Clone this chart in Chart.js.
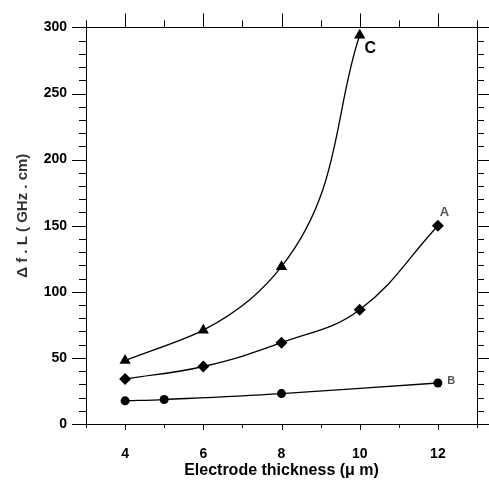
<!DOCTYPE html>
<html>
<head>
<meta charset="utf-8">
<script src="https://cdn.jsdelivr.net/npm/chart.js@4.4.0/dist/chart.umd.min.js"></script>
<style>
  html, body { margin: 0; padding: 0; background: #fff; }
  #wrap { width: 489px; height: 480px; }
</style>
</head>
<body>
<div id="wrap"><canvas id="chart" width="489" height="480"></canvas></div>
<script>
// curve A (diamonds)
const thickA = [4, 6, 8, 10, 12];
const valA = [34, 43.5, 61.5, 86.5, 150];
// curve B (circles)
const thickB = [4, 5, 8, 12];
const valB = [17.5, 18.5, 23, 31];
// curve C (triangles)
const thickC = [4, 6, 8, 10];
const valC = [48, 71, 119, 294];

const xTicks = [4, 6, 8, 10, 12];
const yTicks = [0, 50, 100, 150, 200, 250, 300];

const FONT = "'Liberation Sans', Arial, sans-serif";

function points(xs, ys) {
    return xs.map((x, i) => ({ x: x, y: ys[i] }));
}

// box around the plot + outer tick marks (major and minor)
const frameTicks = {
    id: "frameTicks",
    afterDraw(chart) {
        const { ctx, chartArea: a, scales: { x, y } } = chart;
        ctx.save();
        ctx.strokeStyle = "#000";
        ctx.lineWidth = 1;
        ctx.beginPath();
        ctx.rect(Math.round(a.left) + 0.5, Math.round(a.top) + 0.5,
                 Math.round(a.right - a.left), Math.round(a.bottom - a.top));
        for (let v = 3; v <= 13; v++) {
            const px = Math.round(x.getPixelForValue(v)) + 0.5;
            const major = xTicks.includes(v);
            ctx.moveTo(px, a.bottom); ctx.lineTo(px, a.bottom + (major ? 6 : 4));
            ctx.moveTo(px, a.top); ctx.lineTo(px, a.top - (major ? 14 : 7));
        }
        for (let v = 0; v <= 300; v += 10) {
            const py = Math.round(y.getPixelForValue(v)) + 0.5;
            const major = yTicks.includes(v);
            ctx.moveTo(a.left, py); ctx.lineTo(a.left - (major ? 14 : 7), py);
            ctx.moveTo(a.right, py); ctx.lineTo(a.right + (major ? 12 : 7), py);
        }
        ctx.stroke();

        // y axis title, drawn by hand so it can sit a bit above centre
        ctx.translate(23, (a.top + a.bottom) / 2 - 10);
        ctx.rotate(-Math.PI / 2);
        ctx.fillStyle = "#333";
        ctx.font = "bold 15px " + FONT;
        ctx.textAlign = "center";
        ctx.textBaseline = "middle";
        ctx.fillText("\u0394 f . L ( GHz . cm)", 0, 0);
        ctx.restore();
    }
};

// curve letters next to the lines
const curveTags = {
    id: "curveTags",
    afterDatasetsDraw(chart) {
        const { ctx, scales: { x, y } } = chart;
        const tags = [
            { text: "C", x: 10.27, y: 284, color: "#000", size: 16 },
            { text: "A", x: 12.17, y: 160, color: "#555", size: 13 },
            { text: "B", x: 12.34, y: 32.5, color: "#555", size: 11 }
        ];
        ctx.save();
        ctx.textAlign = "center";
        ctx.textBaseline = "middle";
        tags.forEach(t => {
            ctx.fillStyle = t.color;
            ctx.font = "bold " + t.size + "px " + FONT;
            ctx.fillText(t.text, x.getPixelForValue(t.x), y.getPixelForValue(t.y));
        });
        ctx.restore();
    }
};

const lineStyle = {
    borderColor: "#000",
    backgroundColor: "#000",
    borderWidth: 1.3,
    fill: false,
    clip: false,
    showLine: true,
    pointBorderWidth: 0
};

new Chart(document.getElementById("chart"), {
    type: "scatter",
    data: {
        datasets: [
            Object.assign({ label: "A", data: points(thickA, valA), tension: 0.4,
                pointStyle: "rectRot", pointRadius: 6 }, lineStyle),
            Object.assign({ label: "B", data: points(thickB, valB), tension: 0.4,
                pointStyle: "circle", pointRadius: 4.5 }, lineStyle),
            // C rises almost vertically at the end: interpolate x as a function of y
            Object.assign({ label: "C", data: points(thickC, valC), indexAxis: "y",
                cubicInterpolationMode: "monotone",
                pointStyle: "triangle", pointRadius: 6.5 }, lineStyle)
        ]
    },
    options: {
        responsive: false,
        animation: false,
        layout: { padding: { top: 18, right: 12, left: 0, bottom: 0 } },
        plugins: {
            legend: { display: false },
            tooltip: { enabled: false }
        },
        scales: {
            x: {
                type: "linear",
                min: 3,
                max: 13,
                afterBuildTicks: s => { s.ticks = xTicks.map(v => ({ value: v })); },
                afterFit: s => { s.height = 56; },
                grid: { display: true, drawOnChartArea: false, drawTicks: false },
                border: { display: false },
                ticks: {
                    color: "#000",
                    padding: 22,
                    maxRotation: 0,
                    font: { family: FONT, size: 14, weight: "bold" }
                },
                title: {
                    display: true,
                    text: "Electrode thickness (\u03bc m)",
                    color: "#000",
                    font: { family: FONT, size: 16, weight: "bold" },
                    padding: { top: 0, bottom: 0 }
                }
            },
            y: {
                type: "linear",
                min: 0,
                max: 300,
                afterBuildTicks: s => { s.ticks = yTicks.map(v => ({ value: v })); },
                afterFit: s => { s.width = 86; },
                grid: { display: true, drawOnChartArea: false, drawTicks: false },
                border: { display: false },
                ticks: {
                    color: "#000",
                    padding: 19,
                    font: { family: FONT, size: 14, weight: "bold" }
                }
            }
        }
    },
    plugins: [frameTicks, curveTags]
});
</script>
</body>
</html>
